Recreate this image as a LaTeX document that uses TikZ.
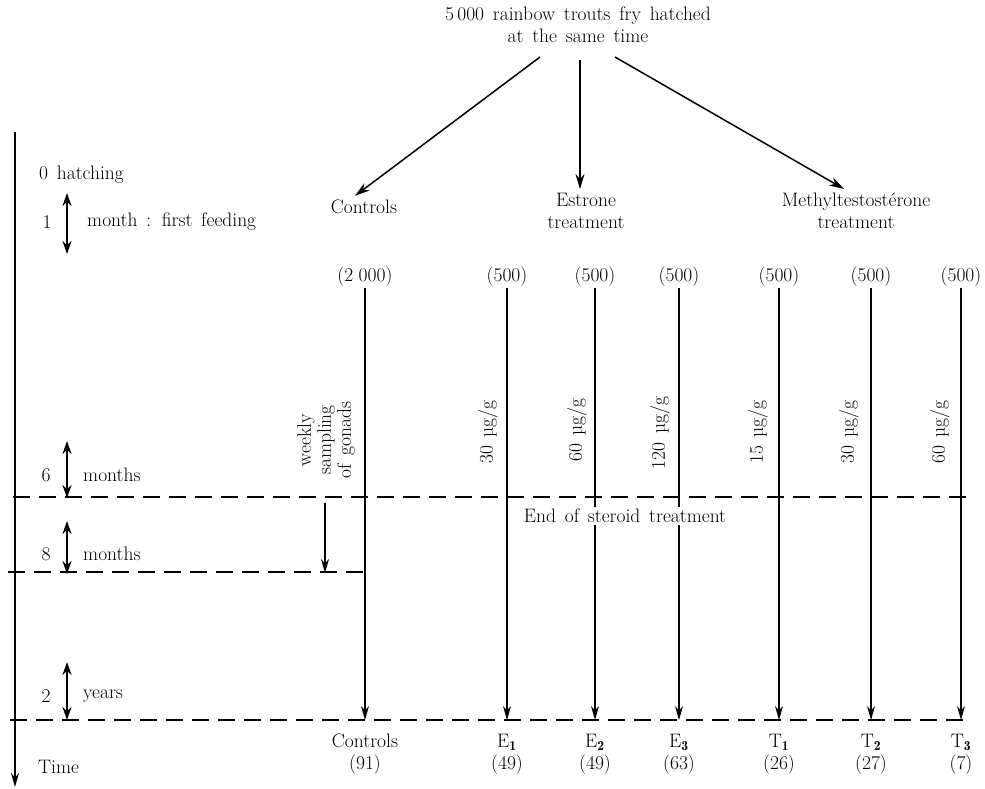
\documentclass[tikz,border=0pt]{standalone}
\usepackage{fontspec}
\usetikzlibrary{arrows.meta}
\protected\def\myfont{\fontsize{19.5}{22}\selectfont\spaceskip=0.45em plus 0.1em\relax}
\protected\def\myfonttight{\fontsize{19.5}{20}\selectfont\spaceskip=0.45em plus 0.1em\relax}
\begin{document}
\begin{tikzpicture}[x=1pt,y=-1pt,
  lbl/.style={font=\myfont, inner sep=1pt},
  arr/.style={-{Stealth[length=15pt,width=9pt]}, line width=1.5pt},
  vline/.style={-{Stealth[length=14pt,width=8pt]}, line width=1.3pt},
  dbl/.style={{Stealth[length=13pt,width=9pt]}-{Stealth[length=13pt,width=9pt]}, line width=2pt},
  dashln/.style={line width=1.6pt, dash pattern=on 17pt off 9pt},
  dose/.style={lbl, rotate=90}]
\useasboundingbox (0,0) rectangle (985,788);

% top
\node[lbl, align=center] (title) at (578,25) {5\,000 rainbow trouts fry hatched\\at the same time};
\node[lbl] (ctrl) at (364,207) {Controls};
\node[lbl, align=center] (estr) at (586,211) {Estrone\\treatment};
\node[lbl, align=center] (meth) at (856,211) {Methyltestostérone\\treatment};
\coordinate (s1) at (540,57);
\coordinate (s2) at (580,60);
\coordinate (s3) at (615,57);
\draw[arr] (s1) -- ([shift={(-9,-3)}]ctrl.north);
\draw[arr] (s2) -- ([shift={(-6,-3)}]estr.north);
\draw[arr] (s3) -- ([shift={(-12,-3)}]meth.north);

% time axis
\coordinate (axtop) at (15,132);
\coordinate (axbot) at (15,787);
\draw[-{Stealth[length=14pt,width=8pt]}, line width=2pt] (axtop) -- (axbot);

% left labels
\node[lbl, anchor=west] (l0) at (38,175) {0 hatching};
\node[lbl] (l1n) at (47,222) {1};
\node[lbl, anchor=west] (l1) at (86,222) {month : first feeding};
\coordinate (a1t) at (67,193); \coordinate (a1b) at (67,254);
\draw[dbl] (a1t) -- (a1b);

\node[lbl] (l6n) at (46,475) {6};
\node[lbl, anchor=west] (l6) at (82,475) {months};
\coordinate (a6t) at (67,441); \coordinate (a6b) at (67,498);
\draw[dbl] (a6t) -- (a6b);

\node[lbl] (l8n) at (46,554) {8};
\node[lbl, anchor=west] (l8) at (82,554) {months};
\coordinate (a8t) at (67,521); \coordinate (a8b) at (67,574);
\draw[dbl] (a8t) -- (a8b);

\node[lbl] (l2n) at (46,696) {2};
\node[lbl, anchor=west] (l2) at (82,696) {years};
\coordinate (a2t) at (67,662); \coordinate (a2b) at (67,720);
\draw[dbl] (a2t) -- (a2b);

\node[lbl, anchor=west] (time) at (37,767) {Time};

% dashed lines
\coordinate (d6a) at (13,497); \coordinate (d6b) at (970,497);
\coordinate (d8a) at (8,572); \coordinate (d8b) at (365,572);
\coordinate (d2a) at (10,720); \coordinate (d2b) at (965,720);
\draw[dashln] (d6a) -- (d6b);
\draw[dashln] (d8a) -- (d8b);
\draw[dashln] (d2a) -- (d2b);

% groups
\foreach \nm/\x/\cnt/\lab/\num in {c/365/(2\;000)/Controls/(91),
    e1/507/(500)/E$_{\mathbf 1}$/(49),
    e2/595/(500)/E$_{\mathbf 2}$/(49),
    e3/679/(500)/E$_{\mathbf 3}$/(63),
    t1/779/(500)/T$_{\mathbf 1}$/(26),
    t2/871/(500)/T$_{\mathbf 2}$/(27),
    t3/961/(500)/T$_{\mathbf 3}$/(7)}{
  \node[lbl] (n\nm) at (\x,277) {\cnt};
  \coordinate (e\nm) at (\x,720);
  \node[lbl, align=center, anchor=north] (b\nm) at (\x,733) {\lab\\\num};
  \draw[vline] (n\nm.south) -- (e\nm);
}

% doses
\node[dose] (de1) at (488,432) {30 µg/g};
\node[dose] (de2) at (577,430) {60 µg/g};
\node[dose] (de3) at (660,433) {120 µg/g};
\node[dose] (dt1) at (758,432) {15 µg/g};
\node[dose] (dt2) at (849,432) {30 µg/g};
\node[dose] (dt3) at (940,432) {60 µg/g};
\node[lbl, rotate=90, align=center, font=\myfonttight] (weekly) at (326,440) {weekly\\sampling\\of gonads};

% sampling arrow
\coordinate (wst) at (325,503); \coordinate (wen) at (325,573);
\draw[vline] (wst) -- (wen);

\node[lbl, fill=white, inner sep=2pt] (end) at (625,516) {End of steroid treatment};
\end{tikzpicture}
\end{document}
